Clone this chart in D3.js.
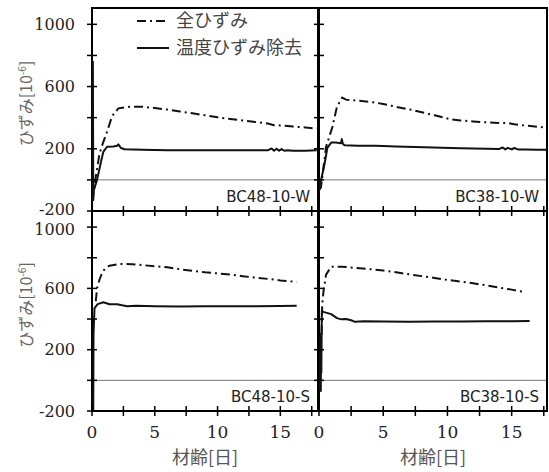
<!DOCTYPE html>
<html>
<head>
<meta charset="utf-8">
<script src="https://cdn.jsdelivr.net/npm/d3@7"></script>
<style>
  body { margin: 0; background: #fff; }
  svg { display: block; }
</style>
</head>
<body>
<div id="chart"></div>
<script>
// series names / specimen labels
const seriesNames = ["全ひずみ", "温度ひずみ除去"];
const specimens = ["BC48-10-W", "BC38-10-W", "BC48-10-S", "BC38-10-S"];

// tick labels
const yTickValues = [-200, 0, 200, 400, 600, 800, 1000];
const yTickLabels = [-200, 200, 600, 1000];
const xTickValues = [0, 2.5, 5, 7.5, 10, 12.5, 15, 17.5];
const xTickLabels = [0, 5, 10, 15];

// BC48-10-W
const w48Days = [0, 0.05, 0.3, 0.6, 0.8, 1.2, 1.6, 2.1, 3, 4, 5, 6, 7, 8, 9, 10, 11, 12, 13, 14, 14.5, 15, 16, 17, 17.9];
const w48Total = [-100, -120, 20, 170, 220, 310, 410, 460, 470, 470, 462, 452, 440, 428, 415, 402, 392, 382, 372, 362, 352, 350, 343, 337, 330];
const w48NetDays = [0, 0.07, 0.1, 0.15, 0.4, 0.7, 0.9, 1.2, 1.7, 2.0, 2.1, 2.3, 2.6, 4, 6, 8, 10, 12, 14, 14.3, 14.5, 14.7, 14.9, 15.1, 15.3, 15.6, 16, 17, 17.9];
const w48Net = [-150, 760, -130, -65, 0, 110, 180, 213, 215, 220, 228, 205, 197, 193, 190, 190, 190, 190, 190, 202, 188, 200, 188, 198, 188, 190, 188, 188, 190];

// BC38-10-W
const w38Days = [0, 0.15, 0.55, 1.05, 1.4, 1.8, 2.1, 3, 4.2, 5, 6, 7.1, 8, 9, 10.2, 11, 12, 13, 14, 14.7, 15.2, 16, 17, 17.7];
const w38Total = [-65, -50, 213, 342, 471, 529, 516, 510, 499, 488, 470, 452, 435, 415, 390, 382, 376, 370, 366, 366, 358, 350, 342, 335];
const w38NetDays = [0, 0.2, 0.45, 0.65, 0.95, 1.3, 1.7, 1.78, 1.85, 2, 3, 4.4, 6, 8.9, 11, 14, 14.3, 14.5, 14.7, 15.0, 15.2, 15.5, 16, 17, 17.7];
const w38Net = [-45, 13, 110, 206, 240, 240, 235, 262, 232, 222, 220, 220, 215, 208, 203, 198, 208, 196, 206, 196, 205, 196, 195, 194, 194];

// BC48-10-S
const s48Days = [0.3, 0.4, 0.6, 0.85, 1.1, 1.4, 2.2, 3.2, 4, 5, 6, 7, 8, 9, 10, 11, 12, 13, 14, 15, 16.3];
const s48Total = [516, 600, 658, 710, 735, 748, 760, 758, 752, 745, 738, 725, 715, 705, 698, 690, 680, 670, 662, 652, 642];
const s48NetDays = [0, 0.1, 0.12, 0.2, 0.45, 0.9, 1.4, 2, 2.4, 2.8, 3.5, 5, 7, 9, 11, 13, 15, 16.3];
const s48Net = [-200, -200, 300, 471, 497, 510, 497, 497, 490, 484, 487, 484, 482, 483, 483, 484, 485, 487];

// BC38-10-S
const s38Days = [0.2, 0.25, 0.35, 0.55, 0.95, 1.8, 2.6, 4, 5, 6, 7, 8, 9, 10, 11, 12, 13, 14, 15, 16.1];
const s38Total = [300, 497, 580, 690, 742, 742, 735, 725, 716, 705, 692, 680, 668, 655, 645, 633, 620, 605, 592, 575];
const s38NetDays = [0.06, 0.08, 0.1, 0.12, 0.14, 0.16, 0.18, 0.22, 0.4, 0.95, 1.4, 1.75, 2.1, 2.5, 2.8, 3.5, 5, 7, 9, 11, 13, 15, 16.4];
const s38Net = [-60, 200, -40, 300, -70, 250, 50, 452, 445, 432, 406, 398, 400, 392, 382, 385, 384, 382, 384, 384, 385, 386, 387];

const zip = (xs, ys) => xs.map((x, i) => [x, ys[i]]);

const panels = [
  { label: specimens[0], col: 0, row: 0, total: zip(w48Days, w48Total), net: zip(w48NetDays, w48Net) },
  { label: specimens[1], col: 1, row: 0, total: zip(w38Days, w38Total), net: zip(w38NetDays, w38Net) },
  { label: specimens[2], col: 0, row: 1, total: zip(s48Days, s48Total), net: zip(s48NetDays, s48Net) },
  { label: specimens[3], col: 1, row: 1, total: zip(s38Days, s38Total), net: zip(s38NetDays, s38Net) },
];

const svgWidth = 549;
const svgHeight = 472;

// panel grid
const colX = [92, 319];
const colW = [226, 228];
const colXMax = [18, 17.75];
const rowY = [8, 211];
const rowH = [203, 200];
const yDomain = [-200, 1105];

const serif = "DejaVu Serif";
const sans = "DejaVu Sans";
const cjk = "Noto Sans CJK JP";
const dashDot = "9,4,2,4";

const svg = d3
  .select("#chart")
  .append("svg")
  .attr("width", svgWidth)
  .attr("height", svgHeight)
  .style("background", "#fff");

panels.forEach((p) => {
  const x0 = colX[p.col];
  const y0 = rowY[p.row];
  const w = colW[p.col];
  const h = rowH[p.row];

  const x = d3.scaleLinear().domain([0, colXMax[p.col]]).range([x0, x0 + w]);
  const y = d3.scaleLinear().domain(yDomain).range([y0 + h, y0]);

  const g = svg.append("g");

  // clip so lines stay inside the panel
  const clipId = `clip-${p.col}-${p.row}`;
  g.append("clipPath")
    .attr("id", clipId)
    .append("rect")
    .attr("x", x0)
    .attr("y", y0)
    .attr("width", w)
    .attr("height", h);

  // zero line
  g.append("line")
    .attr("x1", x0)
    .attr("x2", x0 + w)
    .attr("y1", y(0))
    .attr("y2", y(0))
    .attr("stroke", "#777")
    .attr("stroke-width", 1);

  const line = d3
    .line()
    .x((d) => x(d[0]))
    .y((d) => y(d[1]));

  // frame
  g.append("rect")
    .attr("x", x0)
    .attr("y", y0)
    .attr("width", w)
    .attr("height", h)
    .attr("fill", "none")
    .attr("stroke", "#000")
    .attr("stroke-width", 2);

  const lines = g.append("g").attr("clip-path", `url(#${clipId})`);

  lines
    .append("path")
    .datum(p.total)
    .attr("d", line)
    .attr("fill", "none")
    .attr("stroke", "#111")
    .attr("stroke-width", 2)
    .attr("stroke-dasharray", dashDot);

  lines
    .append("path")
    .datum(p.net)
    .attr("d", line)
    .attr("fill", "none")
    .attr("stroke", "#111")
    .attr("stroke-width", 2)
    .attr("stroke-linejoin", "round");

  // crossing ticks on left axis
  g.selectAll(".ytick")
    .data(yTickValues)
    .join("line")
    .attr("x1", x0 - 5)
    .attr("x2", x0 + 5)
    .attr("y1", (d) => y(d))
    .attr("y2", (d) => y(d))
    .attr("stroke", "#000")
    .attr("stroke-width", 1.5);

  // crossing ticks on bottom axis
  g.selectAll(".xtick")
    .data(xTickValues)
    .join("line")
    .attr("x1", (d) => x(d))
    .attr("x2", (d) => x(d))
    .attr("y1", y0 + h - 5)
    .attr("y2", y0 + h + 5)
    .attr("stroke", "#000")
    .attr("stroke-width", 1.5);

  // specimen label
  g.append("text")
    .attr("x", x0 + w - 8)
    .attr("y", y0 + h - 9)
    .attr("text-anchor", "end")
    .style("font-family", sans)
    .attr("font-size", 15)
    .attr("fill", "#222")
    .text(p.label);

  if (p.col === 0) {
    g.selectAll(".ylab")
      .data(yTickLabels)
      .join("text")
      .attr("x", x0 - 17)
      .attr("y", (d) => y(d) + (d === -200 && p.row === 0 ? -2 : 0) + (d === 1000 && p.row === 1 ? 2 : 0))
      .attr("dy", "0.35em")
      .attr("text-anchor", "end")
      .style("font-family", serif)
      .attr("font-size", 16)
      .attr("fill", "#222")
      .text((d) => d);

    const yt = g
      .append("text")
      .attr("transform", `translate(32, ${y0 + h / 2 - 6}) rotate(-90)`)
      .attr("text-anchor", "middle")
      .style("font-family", cjk)
      .attr("font-size", 16)
      .attr("fill", "#666");
    yt.append("tspan").text("ひずみ[10");
    yt.append("tspan").attr("font-size", 10).attr("dy", -6).text("-6");
    yt.append("tspan").attr("dy", 6).text("]");
  }

  if (p.row === 1) {
    g.selectAll(".xlab")
      .data(xTickLabels)
      .join("text")
      .attr("x", (d) => x(d))
      .attr("y", y0 + h + 27)
      .attr("text-anchor", "middle")
      .style("font-family", serif)
      .attr("font-size", 17)
      .attr("fill", "#222")
      .text((d) => d);

    g.append("text")
      .attr("x", p.col === 0 ? 205 : 433)
      .attr("y", y0 + h + 53)
      .attr("text-anchor", "middle")
      .style("font-family", cjk)
      .attr("font-size", 18)
      .attr("fill", "#555")
      .text("材齢[日]");
  }
});

// legend (inside top-left panel)
const legend = svg.append("g").attr("transform", "translate(137, 0)");
const legendRows = [
  { name: seriesNames[0], dash: dashDot, y: 21 },
  { name: seriesNames[1], dash: null, y: 48 },
];
legendRows.forEach((r) => {
  legend
    .append("line")
    .attr("x1", 0)
    .attr("x2", 32)
    .attr("y1", r.y)
    .attr("y2", r.y)
    .attr("stroke", "#111")
    .attr("stroke-width", 2)
    .attr("stroke-dasharray", r.dash);
  legend
    .append("text")
    .attr("x", 39)
    .attr("y", r.y)
    .attr("dy", "0.35em")
    .style("font-family", cjk)
    .attr("font-size", 18)
    .attr("fill", "#444")
    .text(r.name);
});
</script>
</body>
</html>
